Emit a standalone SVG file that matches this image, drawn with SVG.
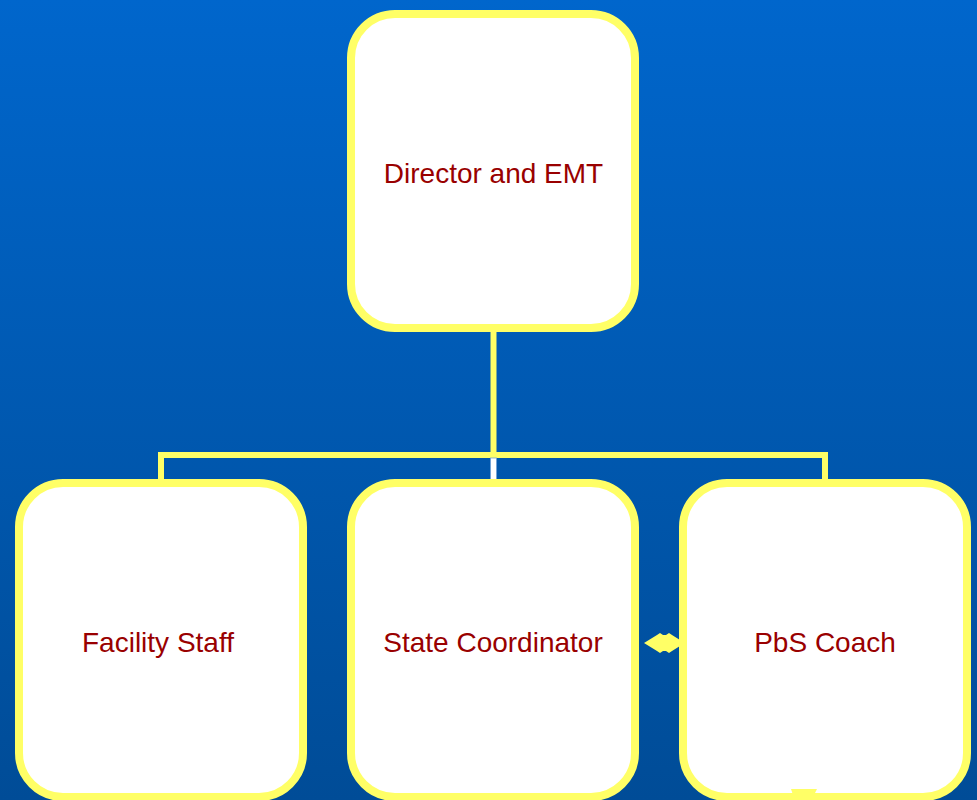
<svg xmlns="http://www.w3.org/2000/svg" width="977" height="800" viewBox="0 0 977 800">
<defs>
<linearGradient id="bg" x1="0" y1="0" x2="0" y2="1">
<stop offset="0" stop-color="#0066CC"/>
<stop offset="1" stop-color="#004C97"/>
</linearGradient>
<style>
.box{fill:#FFFFFF;stroke:#FFFF66;stroke-width:8}
.lbl{font-family:"Liberation Sans",Arial,sans-serif;font-size:28px;fill:#990000;text-anchor:middle}
.conn{fill:none;stroke:#FFFF66;stroke-width:6}
</style>
</defs>
<rect x="0" y="0" width="977" height="800" fill="url(#bg)"/>
<g id="connectors">
<line class="conn" x1="493.5" y1="332" x2="493.5" y2="455"/>
<polyline class="conn" points="161,479 161,455 825,455 825,479"/>
<rect x="490.5" y="458" width="6" height="22" fill="#FFFFFF" stroke="#6FA0D8" stroke-width="0.8"/>
<polygon fill="#FFFF66" points="644,643 657,635 660,633 663,635 666,635 669,633 672,635 680,640 680,646 672,651 669,653 666,651 663,651 660,653 657,651"/>
</g>
<g id="director">
<rect class="box" x="351" y="14" width="284" height="314" rx="44"/>
<text class="lbl" x="493.5" y="183">Director and EMT</text>
</g>
<g id="facility">
<rect class="box" x="19" y="483" width="284" height="314" rx="44"/>
<text class="lbl" x="158" y="652">Facility Staff</text>
</g>
<g id="state">
<rect class="box" x="351" y="483" width="284" height="314" rx="44"/>
<text class="lbl" x="493" y="652">State Coordinator</text>
</g>
<g id="pbs">
<rect class="box" x="683" y="483" width="284" height="314" rx="44"/>
<text class="lbl" x="825" y="652">PbS Coach</text>
<polygon fill="#FFFF66" points="791,789 817,789 814,795 793,795"/>
</g>
</svg>
